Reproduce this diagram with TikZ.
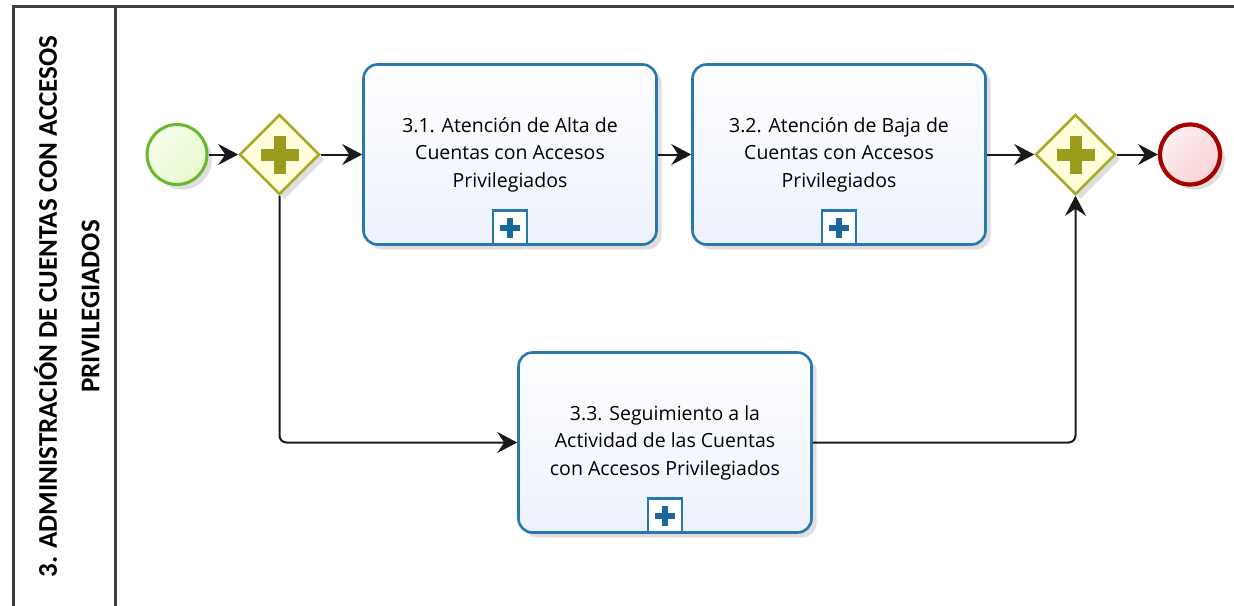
\documentclass[tikz,border=0pt]{standalone}
\usepackage{fontspec}
\setmainfont{Open Sans}
\newfontfamily\lanefont{Carlito}
\usetikzlibrary{shapes.geometric,arrows.meta,shadows,backgrounds}
\definecolor{taskblue}{RGB}{40,120,172}
\definecolor{markblue}{RGB}{24,104,156}
\definecolor{taskfill}{RGB}{236,241,252}
\definecolor{gwline}{RGB}{170,170,40}
\definecolor{gwplus}{RGB}{155,155,30}
\definecolor{gwfill}{RGB}{255,255,222}
\definecolor{startline}{RGB}{104,184,44}
\definecolor{startfill}{RGB}{232,250,206}
\definecolor{endline}{RGB}{164,0,0}
\definecolor{endfill}{RGB}{248,210,214}
\definecolor{poolline}{RGB}{64,64,64}
\tikzset{
  softshadow/.style={drop shadow={shadow xshift=5pt, shadow yshift=-5pt, opacity=0.13, fill=black}},
  taskbox/.style={draw=taskblue, line width=2.6pt, rounded corners=14pt, top color=white, bottom color=taskfill,
    minimum width=293pt, minimum height=180pt, align=center, inner sep=0pt,
    font=\fontsize{19.5}{27.5}\selectfont, softshadow},
  marker/.style={draw=taskblue, line width=2.4pt, fill=white, minimum size=34pt, inner sep=0pt, anchor=south,
    path picture={
      \draw[markblue, line width=6pt] ([xshift=-10pt]path picture bounding box.center) -- ([xshift=10pt]path picture bounding box.center);
      \draw[markblue, line width=6pt] ([yshift=-10pt]path picture bounding box.center) -- ([yshift=10pt]path picture bounding box.center);}},
  gateway/.style={diamond, aspect=1, draw=gwline, fill=gwfill, line width=2.6pt, minimum width=80pt, minimum height=80pt,
    inner sep=0pt, softshadow,
    path picture={
      \draw[gwplus, line width=12pt] ([xshift=-19pt]path picture bounding box.center) -- ([xshift=19pt]path picture bounding box.center);
      \draw[gwplus, line width=12pt] ([yshift=-19pt]path picture bounding box.center) -- ([yshift=19pt]path picture bounding box.center);}},
  startev/.style={circle, draw=startline, line width=3pt, top color=startfill!40, bottom color=startfill, shading angle=45,
    minimum size=60pt, inner sep=0pt, softshadow},
  endev/.style={circle, draw=endline, line width=4.2pt, top color=endfill!35, bottom color=endfill, shading angle=45,
    minimum size=60pt, inner sep=0pt, softshadow},
  conn/.style={draw=black!90, line width=2pt, -{Stealth[length=20pt,width=21pt,inset=7pt]}},
  ghost/.style={draw=black, opacity=0.07, line width=2pt, -{Stealth[length=20pt,width=21pt,inset=7pt]}},
  pool/.style={draw=poolline, line width=2.6pt},
  lanelabel/.style={rotate=90, align=center, font=\lanefont\bfseries\fontsize{27}{42.5}\selectfont}
}
\begin{document}
\begin{tikzpicture}[x=1pt,y=-1pt]
\useasboundingbox (0,0) rectangle (1234,605);
\fill[white] (0,0) rectangle (1234,605);

% pool
\coordinate (ptr) at (1236,6.5);
\coordinate (ptl) at (13.5,6.5);
\coordinate (pbl) at (13.5,607);
\coordinate (dtop) at (115.5,6.5);
\coordinate (dbot) at (115.5,607);
\draw[pool] (ptr) -- (ptl) -- (pbl);
\draw[pool] (dtop) -- (dbot);
\node[lanelabel] (lane) at (67,306.5) {3. ADMINISTRACIÓN DE CUENTAS CON ACCESOS\\PRIVILEGIADOS};

% flow objects
\node[startev] (s) at (177,154.5) {};
\node[gateway] (g1) at (279.5,154.5) {};
\node[taskbox] (t1) at (510,154.5) {3.1. Atención de Alta de\\Cuentas con Accesos\\Privilegiados};
\node[marker] (m1) at (t1.south) {};
\node[taskbox] (t2) at (839,154.5) {3.2. Atención de Baja de\\Cuentas con Accesos\\Privilegiados};
\node[marker] (m2) at (t2.south) {};
\node[taskbox] (t3) at (665,442.5) {3.3. Seguimiento a la\\Actividad de las Cuentas\\con Accesos Privilegiados};
\node[marker] (m3) at (t3.south) {};
\node[gateway] (g2) at (1075.5,154.5) {};
\node[endev] (e) at (1190,154.5) {};

% connectors
\draw[conn] (s) -- (g1);
\draw[conn] (g1) -- (t1);
\draw[conn] (t1) -- (t2);
\draw[conn] (t2) -- (g2);
\draw[conn] (g2) -- (e);
\draw[conn, rounded corners=7pt] (g1.south) |- (t3.west);
\draw[conn, rounded corners=7pt] (t3.east) -| (g2.south);

% faint connector reflections
\begin{scope}[on background layer, transform canvas={shift={(20pt,-20pt)}}]
\draw[ghost] (s) -- (g1);
\draw[ghost] (g1) -- (t1);
\draw[ghost] (t1) -- (t2);
\draw[ghost] (t2) -- (g2);
\draw[ghost] (g2) -- (e);
\draw[ghost, rounded corners=7pt] (g1.south) |- (t3.west);
\draw[ghost, rounded corners=7pt] (t3.east) -| (g2.south);
\end{scope}
\end{tikzpicture}
\end{document}
